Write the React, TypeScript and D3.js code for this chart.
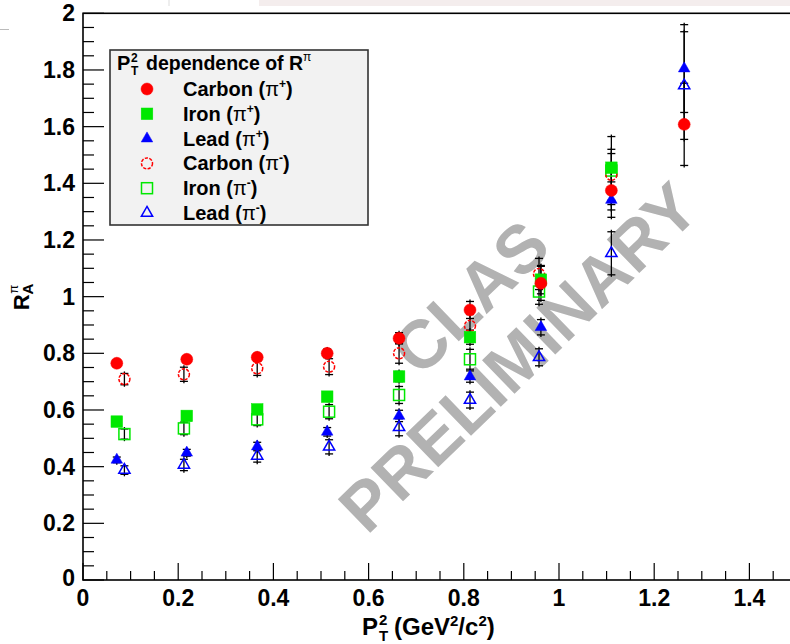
import React from "react";
import * as d3 from "d3";

// ---- data ----
const carbonPlusX = [0.071, 0.218, 0.366, 0.513, 0.664, 0.813, 0.962, 1.11, 1.263];
const carbonPlusY = [0.765, 0.779, 0.786, 0.8, 0.853, 0.953, 1.047, 1.375, 1.608];
const carbonPlusE = [0.012, 0.012, 0.013, 0.015, 0.02, 0.03, 0.06, 0.095, 0.145];

const ironPlusX = [0.071, 0.218, 0.366, 0.513, 0.664, 0.813, 0.962, 1.11];
const ironPlusY = [0.559, 0.579, 0.602, 0.647, 0.718, 0.857, 1.06, 1.455];
const ironPlusE = [0.01, 0.01, 0.012, 0.013, 0.018, 0.025, 0.05, 0.05];

const leadPlusX = [0.071, 0.218, 0.366, 0.513, 0.664, 0.813, 0.962, 1.11, 1.263];
const leadPlusY = [0.424, 0.449, 0.471, 0.523, 0.579, 0.718, 0.892, 1.341, 1.805];
const leadPlusE = [0.01, 0.012, 0.015, 0.015, 0.02, 0.02, 0.027, 0.035, 0.155];

const carbonMinusX = [0.087, 0.212, 0.366, 0.517, 0.664, 0.813, 0.958, 1.11];
const carbonMinusY = [0.709, 0.726, 0.747, 0.753, 0.8, 0.897, 1.08, 1.43];
const carbonMinusE = [0.02, 0.025, 0.025, 0.028, 0.035, 0.04, 0.055, 0.09];

const ironMinusX = [0.087, 0.212, 0.366, 0.517, 0.664, 0.813, 0.958, 1.11];
const ironMinusY = [0.515, 0.535, 0.567, 0.594, 0.653, 0.779, 1.018, 1.445];
const ironMinusE = [0.018, 0.022, 0.022, 0.025, 0.03, 0.035, 0.045, 0.12];

const leadMinusX = [0.087, 0.212, 0.366, 0.517, 0.664, 0.813, 0.958, 1.11, 1.263];
const leadMinusY = [0.388, 0.406, 0.438, 0.47, 0.539, 0.635, 0.786, 1.153, 1.745];
const leadMinusE = [0.015, 0.02, 0.022, 0.025, 0.03, 0.028, 0.03, 0.076, 0.19];

const xTickValues = [0, 0.2, 0.4, 0.6, 0.8, 1, 1.2, 1.4];
const yTickValues = [0, 0.2, 0.4, 0.6, 0.8, 1, 1.2, 1.4, 1.6, 1.8, 2];

const RED = "#ff0000";
const GREEN = "#00e800";
const BLUE = "#0000ff";

type Shape = "circle" | "square" | "triangle";
type Series = {
  name: string;
  charge: string;
  xs: number[];
  ys: number[];
  es: number[];
  color: string;
  shape: Shape;
  filled: boolean;
};

const legendSeries: Series[] = [
  { name: "Carbon", charge: "+", xs: carbonPlusX, ys: carbonPlusY, es: carbonPlusE, color: RED, shape: "circle", filled: true },
  { name: "Iron", charge: "+", xs: ironPlusX, ys: ironPlusY, es: ironPlusE, color: GREEN, shape: "square", filled: true },
  { name: "Lead", charge: "+", xs: leadPlusX, ys: leadPlusY, es: leadPlusE, color: BLUE, shape: "triangle", filled: true },
  { name: "Carbon", charge: "-", xs: carbonMinusX, ys: carbonMinusY, es: carbonMinusE, color: RED, shape: "circle", filled: false },
  { name: "Iron", charge: "-", xs: ironMinusX, ys: ironMinusY, es: ironMinusE, color: GREEN, shape: "square", filled: false },
  { name: "Lead", charge: "-", xs: leadMinusX, ys: leadMinusY, es: leadMinusE, color: BLUE, shape: "triangle", filled: false },
];

// drawing order: open markers first, then filled (lead, iron, carbon)
const drawOrder = [5, 4, 3, 2, 1, 0];

const FONT = "'Liberation Sans', Arial, Helvetica, sans-serif";

function Marker({ x, y, s }: { x: number; y: number; s: Series }) {
  const fill = s.filled ? s.color : "none";
  const stroke = s.color;
  const sw = s.filled ? 0.5 : 1.5;
  if (s.shape === "circle") {
    return (
      <circle cx={x} cy={y} r={s.filled ? 6 : 5.5} fill={fill} stroke={stroke} strokeWidth={sw}
        strokeDasharray={s.filled ? undefined : "3.2 1.4"} />
    );
  }
  if (s.shape === "square") {
    const h = s.filled ? 5.8 : 5.5;
    return <rect x={x - h} y={y - h} width={2 * h} height={2 * h} fill={fill} stroke={stroke} strokeWidth={sw} />;
  }
  const path = d3.symbol(d3.symbolTriangle, s.filled ? 58 : 55)();
  return <path d={path as string} transform={`translate(${x},${y})`} fill={fill} stroke={stroke} strokeWidth={sw} />;
}

export default function App() {
  const W = 790;
  const H = 644;
  const x = d3.scaleLinear().domain([0, 1.5]).range([83, 797]);
  const y = d3.scaleLinear().domain([0, 2]).range([580, 13.3]);

  const xMinor = d3.range(0, 1.5001, 0.05).filter((v) => Math.abs(v / 0.2 - Math.round(v / 0.2)) > 1e-6);
  const yMinor = d3.range(0, 2.0001, 0.05).filter((v) => Math.abs(v / 0.2 - Math.round(v / 0.2)) > 1e-6);

  const [x0, x1] = x.range();
  const [y0, y1] = y.range();

  return (
    <svg width={W} height={H} viewBox={`0 0 ${W} ${H}`} style={{ display: "block", position: "absolute", left: 0, top: 0, background: "#fff" }}
      fontFamily={FONT}>
      <rect x={0} y={0} width={W} height={H} fill="#ffffff" />
      {/* screenshot artefacts at top */}
      <rect x={259} y={0} width={W - 259} height={6} fill="#f4eded" />
      <line x1={169} y1={0} x2={169} y2={6} stroke="#dddddd" strokeWidth={1} />
      <line x1={0} y1={29.5} x2={9} y2={29.5} stroke="#bbbbbb" strokeWidth={1} />

      {/* watermark */}
      <g fill="#b2b2b2" fontWeight="bold" fontSize={68} textAnchor="middle" dominantBaseline="central">
        <text transform="translate(470,297) rotate(-44)">CLAS</text>
        <text transform="translate(518,357) rotate(-44)">PRELIMINARY</text>
      </g>

      {/* frame */}
      <rect x={x0} y={y1} width={x1 - x0} height={y0 - y1} fill="none" stroke="#000" strokeWidth={1.6} />

      {/* x ticks */}
      {xTickValues.map((v) => (
        <line key={"xM" + v} x1={x(v)} x2={x(v)} y1={y0} y2={y0 - 17} stroke="#000" strokeWidth={1.2} />
      ))}
      {xMinor.map((v) => (
        <line key={"xm" + v} x1={x(v)} x2={x(v)} y1={y0} y2={y0 - 9} stroke="#000" strokeWidth={1.2} />
      ))}
      {/* y ticks */}
      {yTickValues.map((v) => (
        <line key={"yM" + v} x1={x0} x2={x0 + 21} y1={y(v)} y2={y(v)} stroke="#000" strokeWidth={1.2} />
      ))}
      {yMinor.map((v) => (
        <line key={"ym" + v} x1={x0} x2={x0 + 11} y1={y(v)} y2={y(v)} stroke="#000" strokeWidth={1.2} />
      ))}

      {/* tick labels */}
      <g fontWeight="bold" fontSize={23} fill="#000">
        {xTickValues.map((v) => (
          <text key={"xl" + v} x={x(v)} y={y0 + 26} textAnchor="middle">{d3.format("~g")(v)}</text>
        ))}
        {yTickValues.map((v) => (
          <text key={"yl" + v} x={x0 - 8} y={y(v) + (v === 0 ? 6 : 8)} textAnchor="end">{d3.format("~g")(v)}</text>
        ))}
      </g>

      {/* axis titles */}
      <g fontWeight="bold" fill="#000">
        <text x={362} y={635} fontSize={24}>P</text>
        <text x={379} y={641} fontSize={15}>T</text>
        <text x={379} y={625} fontSize={15}>2</text>
        <text x={394} y={635} fontSize={24}>
          (GeV<tspan fontSize={15} dy={-9}>2</tspan>
          <tspan fontSize={24} dy={9}>/c</tspan>
          <tspan fontSize={15} dy={-9}>2</tspan>
          <tspan fontSize={24} dy={9}>)</tspan>
        </text>
      </g>
      <text transform="translate(29,297) rotate(-90)" textAnchor="middle" fontWeight="bold" fontSize={22} fill="#000">
        R<tspan fontSize={15} dy={4}>A</tspan>
        <tspan fontSize={13} fontWeight="normal" dx={-10} dy={-15}>π</tspan>
      </text>

      {/* error bars */}
      <g stroke="#000" strokeWidth={1.3}>
        {drawOrder.map((si) => {
          const s = legendSeries[si];
          return s.xs.map((xv, i) => {
            const px = x(xv);
            const top = y(s.ys[i] + s.es[i]);
            const bot = y(s.ys[i] - s.es[i]);
            return (
              <g key={`e${si}-${i}`}>
                <line x1={px} x2={px} y1={top - 2} y2={bot + 2} />
                <line x1={px - 4} x2={px + 4} y1={top} y2={top} />
                <line x1={px - 4} x2={px + 4} y1={bot} y2={bot} />
              </g>
            );
          });
        })}
      </g>

      {/* markers */}
      {drawOrder.map((si) => {
        const s = legendSeries[si];
        return (
          <g key={"m" + si}>
            {s.xs.map((xv, i) => (
              <Marker key={i} x={x(xv)} y={y(s.ys[i])} s={s} />
            ))}
          </g>
        );
      })}

      {/* legend */}
      <rect x={110} y={50} width={258} height={175} fill="#f2f2f2" stroke="#333" strokeWidth={1.6} />
      <g fontWeight="bold" fill="#000">
        <text x={117} y={70} fontSize={20}>P</text>
        <text x={131} y={75} fontSize={12}>T</text>
        <text x={131} y={62} fontSize={12}>2</text>
        <text x={146} y={70} fontSize={19.5}>
          dependence of R<tspan fontSize={12} fontWeight="normal" dy={-9}>π</tspan>
        </text>
      </g>
      {legendSeries.map((s, i) => {
        const cy = 89 + i * 24.8;
        return (
          <g key={"lg" + i}>
            <Marker x={147} y={cy} s={s} />
            <text x={183} y={cy + 7} fontWeight="bold" fontSize={20} fill="#000">
              {s.name} (<tspan fontWeight="normal">π</tspan>
              <tspan fontSize={12} dy={-8}>{s.charge}</tspan>
              <tspan dy={8}>)</tspan>
            </text>
          </g>
        );
      })}
    </svg>
  );
}
